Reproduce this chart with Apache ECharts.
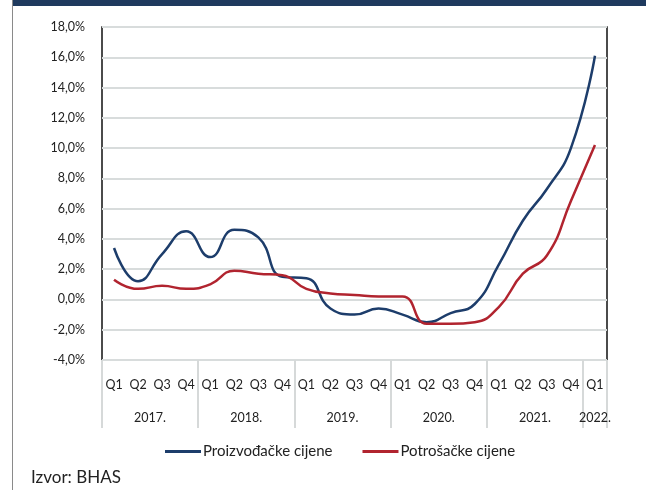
<!DOCTYPE html>
<html>
<head>
<meta charset="utf-8">
<script src="https://cdn.jsdelivr.net/npm/echarts@6/dist/echarts.min.js"></script>
<style>
  html, body { margin: 0; padding: 0; background: #fff; }
  #chart { width: 646px; height: 490px; }
</style>
</head>
<body>
<div id="chart"></div>
<script>
// kvartali i godine
var quarters = ["Q1", "Q2", "Q3", "Q4", "Q1", "Q2", "Q3", "Q4", "Q1", "Q2", "Q3", "Q4",
  "Q1", "Q2", "Q3", "Q4", "Q1", "Q2", "Q3", "Q4", "Q1"];
var years = ["2017.", "2018.", "2019.", "2020.", "2021.", "2022."];
var quartersPerYear = [4, 4, 4, 4, 4, 1];

// Proizvođačke cijene (%)
var producerPrices = [3.4, 1.2, 3.0, 4.5, 2.8, 4.6, 4.1, 1.5, 1.4, -0.6, -1.0,
  -0.6, -1.0, -1.5, -0.9, -0.3, 2.3, 5.2, 7.3, 10.0, 16.1];
// Potrošačke cijene (%)
var consumerPrices = [1.3, 0.7, 0.9, 0.7, 1.0, 1.9, 1.7, 1.6, 0.7, 0.4, 0.3,
  0.2, 0.2, -1.6, -1.6, -1.5, -0.5, 1.7, 2.9, 6.5, 10.2];

var seriesNames = ["Proizvođačke cijene", "Potrošačke cijene"];
var FONT = "Lato";

// granice godina i sredine za natpise
var bounds = [0];
var centers = [];
quartersPerYear.forEach(function (n, i) {
  centers.push(bounds[i] + n / 2);
  bounds.push(bounds[i] + n);
});

var myChart = echarts.init(document.getElementById("chart"));
var option = {
  animation: false,
  color: ["#1d3d6b", "#b1242f"],
  title: {
    text: "Izvor: BHAS",
    left: 31,
    top: 469,
    padding: 0,
    textStyle: { fontFamily: FONT, fontSize: 17, fontWeight: "normal", color: "#222" }
  },
  legend: {
    data: seriesNames,
    left: 165,
    top: 444,
    padding: 0,
    icon: "rect",
    itemWidth: 36,
    itemHeight: 3,
    itemGap: 30,
    textStyle: { fontFamily: FONT, fontSize: 15, color: "#222", padding: [0, 0, 0, -3] }
  },
  graphic: [
    { type: "rect", shape: { x: 12, y: 0, width: 634, height: 6 }, style: { fill: "#1f3a5e" } },
    { type: "line", shape: { x1: 12.5, y1: 0, x2: 12.5, y2: 490 }, style: { stroke: "#8a8a8a", lineWidth: 1 } }
  ],
  grid: {
    left: 102,
    top: 27,
    right: 39,
    bottom: 130,
    show: true,
    borderColor: "#111",
    borderWidth: 1.5,
    containLabel: false
  },
  xAxis: [
    {
      type: "category",
      data: quarters,
      boundaryGap: true,
      axisLine: { show: false },
      axisTick: { show: false },
      axisLabel: { margin: 18, fontFamily: FONT, fontSize: 12.5, color: "#222" }
    },
    {
      type: "value",
      min: 0,
      max: quarters.length,
      position: "bottom",
      splitLine: { show: false },
      axisLine: { show: false },
      axisTick: {
        show: true,
        customValues: bounds,
        length: 68,
        lineStyle: { color: "#d6d9d9", width: 2 }
      },
      axisLabel: {
        customValues: centers,
        margin: 51,
        fontFamily: FONT,
        fontSize: 12.5,
        color: "#222",
        formatter: function (v) {
          var i = centers.indexOf(v);
          return i >= 0 ? years[i] : "";
        }
      }
    }
  ],
  yAxis: {
    type: "value",
    min: -4,
    max: 18,
    interval: 2,
    axisLine: { show: false },
    axisTick: { show: false },
    splitLine: { lineStyle: { color: "#d8dcdc", width: 2 } },
    axisLabel: {
      margin: 17,
      fontFamily: FONT,
      fontSize: 12.5,
      color: "#222",
      formatter: function (v) {
        return v.toFixed(1).replace(".", ",") + "%";
      }
    }
  },
  series: [
    {
      name: seriesNames[0],
      type: "line",
      data: producerPrices,
      smooth: 0.5,
      symbol: "none",
      lineStyle: { width: 2.5 }
    },
    {
      name: seriesNames[1],
      type: "line",
      data: consumerPrices,
      smooth: 0.5,
      symbol: "none",
      lineStyle: { width: 2.5 }
    }
  ]
};
myChart.setOption(option);
</script>
</body>
</html>
